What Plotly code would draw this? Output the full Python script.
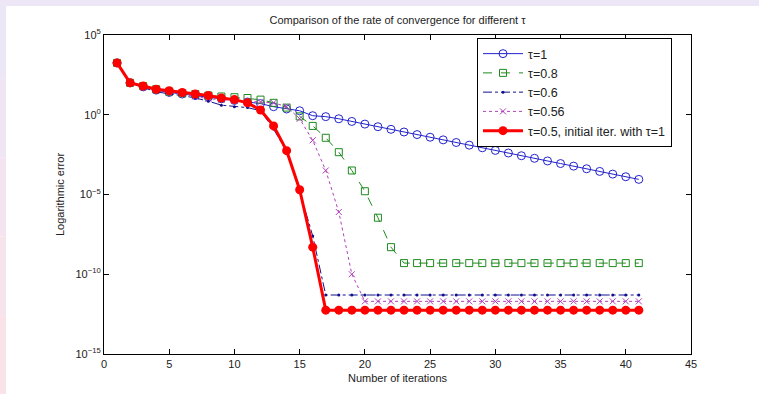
import plotly.graph_objects as go

iterations = list(range(1, 42))

# tau = 1 (blue circles)
err_tau1 = [1.78e3, 1.0e2, 56, 35, 25, 20, 16, 12.6, 10, 7.9, 6.3, 5.0, 3.2, 2.3, 1.78, 0.87, 0.76, 0.56, 0.38,
            0.26, 0.178, 0.122, 0.083, 0.057, 0.039, 0.0266, 0.0182, 0.0124, 8.5e-3, 5.8e-3, 4.0e-3,
            2.7e-3, 1.86e-3, 1.27e-3, 8.7e-4, 6.0e-4, 4.1e-4, 2.8e-4, 1.9e-4, 1.3e-4, 8.9e-5]

# tau = 0.8 (green squares)
err_tau08 = [1.78e3, 1.0e2, 63, 40, 28, 22, 20, 16, 14, 12.6, 11.2, 8.9, 5.6, 2.8, 0.79, 0.2, 0.036,
             4.5e-3, 3.2e-4, 1.6e-5, 3.5e-7, 5.0e-9, 5.0e-10, 5.0e-10, 5.0e-10, 5.0e-10, 5.0e-10, 5.0e-10,
             5.0e-10, 5.0e-10, 5.0e-10, 5.0e-10, 5.0e-10, 5.0e-10, 5.0e-10, 5.0e-10, 5.0e-10, 5.0e-10,
             5.0e-10, 5.0e-10, 5.0e-10]

# tau = 0.6 (navy dash-dot, dots)
err_tau06 = [1.78e3, 1.0e2, 50, 28, 20, 16, 11.2, 7.1, 4.0, 3.2, 2.8, 1.8, 0.126, 5.0e-3, 1.6e-5, 2.5e-8,
             5.0e-12, 5.0e-12, 5.0e-12, 5.0e-12, 5.0e-12, 5.0e-12, 5.0e-12, 5.0e-12, 5.0e-12, 5.0e-12,
             5.0e-12, 5.0e-12, 5.0e-12, 5.0e-12, 5.0e-12, 5.0e-12, 5.0e-12, 5.0e-12, 5.0e-12, 5.0e-12,
             5.0e-12, 5.0e-12, 5.0e-12, 5.0e-12, 5.0e-12]

# tau = 0.56 (magenta crosses)
err_tau056 = [1.78e3, 1.0e2, 56, 35, 25, 20, 14, 10, 8.9, 7.9, 7.1, 6.3, 5.6, 3.2, 0.56, 0.025, 3.2e-4,
              8.0e-7, 1.0e-10, 2.0e-12, 2.0e-12, 2.0e-12, 2.0e-12, 2.0e-12, 2.0e-12, 2.0e-12, 2.0e-12,
              2.0e-12, 2.0e-12, 2.0e-12, 2.0e-12, 2.0e-12, 2.0e-12, 2.0e-12, 2.0e-12, 2.0e-12, 2.0e-12,
              2.0e-12, 2.0e-12, 2.0e-12, 2.0e-12]

# tau = 0.5, initial iteration with tau = 1 (red)
err_tau05 = [1.78e3, 1.0e2, 63, 40, 32, 25, 20, 16, 11.2, 8.9, 5.6, 2.0, 0.2, 5.6e-3, 2.0e-5, 5.0e-9,
             5.6e-13, 5.6e-13, 5.6e-13, 5.6e-13, 5.6e-13, 5.6e-13, 5.6e-13, 5.6e-13, 5.6e-13, 5.6e-13,
             5.6e-13, 5.6e-13, 5.6e-13, 5.6e-13, 5.6e-13, 5.6e-13, 5.6e-13, 5.6e-13, 5.6e-13, 5.6e-13,
             5.6e-13, 5.6e-13, 5.6e-13, 5.6e-13, 5.6e-13]

series_names = ["τ=1", "τ=0.8", "τ=0.6", "τ=0.56", "τ=0.5, initial iter. with τ=1"]

x_ticks = [0, 5, 10, 15, 20, 25, 30, 35, 40, 45]
y_ticks = [1e-15, 1e-10, 1e-5, 1e0, 1e5]
y_ticktext = ["10<sup>−15</sup>", "10<sup>−10</sup>", "10<sup>−5</sup>", "10<sup>0</sup>", "10<sup>5</sup>"]

FONT = "Liberation Sans, Arial, sans-serif"

fig = go.Figure()
fig.add_trace(go.Scatter(x=iterations, y=err_tau1, name=series_names[0], mode="lines+markers",
                         line=dict(color="#2222cc", width=1),
                         marker=dict(symbol="circle-open", size=8, color="#2222cc", line=dict(width=1))))
fig.add_trace(go.Scatter(x=iterations, y=err_tau08, name=series_names[1], mode="lines+markers",
                         line=dict(color="#1e8a1e", width=1, dash="dash"),
                         marker=dict(symbol="square-open", size=7, color="#1e8a1e", line=dict(width=1))))
fig.add_trace(go.Scatter(x=iterations, y=err_tau06, name=series_names[2], mode="lines+markers",
                         line=dict(color="#10108c", width=1, dash="dashdot"),
                         marker=dict(symbol="circle", size=3, color="#10108c")))
fig.add_trace(go.Scatter(x=iterations, y=err_tau056, name=series_names[3], mode="lines+markers",
                         line=dict(color="#b040b8", width=1, dash="dot"),
                         marker=dict(symbol="x-thin-open", size=6, color="#b040b8", line=dict(width=1, color="#b040b8"))))
fig.add_trace(go.Scatter(x=iterations, y=err_tau05, name=series_names[4], mode="lines+markers",
                         line=dict(color="#ff0000", width=3),
                         marker=dict(symbol="circle", size=9, color="#ff0000")))

# decorative page edges (lavender/pink border strips)
strip_colors = ["#ece6f6", "#efe5f3", "#f3e4ef", "#f6e3ec", "#f9e3e8"]
n = len(strip_colors)
for i, c in enumerate(strip_colors):
    fig.add_shape(type="rect", xref="paper", yref="paper",
                  x0=-104 / 587, x1=-98 / 587,
                  y0=1 + 35 / 319 - (i + 1) * (394 / 319) / n, y1=1 + 35 / 319 - i * (394 / 319) / n,
                  fillcolor=c, line=dict(width=0), layer="below")
fig.add_shape(type="rect", xref="paper", yref="paper",
              x0=-104 / 587, x1=1 + 68 / 587, y0=1 + 29 / 319, y1=1 + 35 / 319,
              fillcolor="#ece6f6", line=dict(width=0), layer="below")

axis_common = dict(showgrid=False, zeroline=False, showline=True, linecolor="black", linewidth=1,
                   mirror="ticks", ticks="inside", ticklen=5, tickcolor="black",
                   tickfont=dict(family=FONT, size=11, color="#222222"))

fig.update_layout(
    width=759, height=394,
    margin=dict(l=104, r=68, t=35, b=40),
    paper_bgcolor="white", plot_bgcolor="white",
    title=dict(text="Comparison of the rate of convergence for different τ", x=(104 + 587 / 2) / 759,
               xanchor="center", y=1 - 20 / 394, yanchor="middle",
               font=dict(family=FONT, size=11, color="#222222")),
    xaxis=dict(range=[0, 45], tickvals=x_ticks, ticktext=[str(v) for v in x_ticks],
               title=dict(text="Number of iterations", font=dict(family=FONT, size=11, color="#222222"), standoff=5),
               **axis_common),
    yaxis=dict(type="log", range=[-15, 5], tickvals=y_ticks, ticktext=y_ticktext,
               title=dict(text="Logarithmic error", font=dict(family=FONT, size=11, color="#222222"), standoff=8),
               **axis_common),
    legend=dict(x=(477 - 104) / 587, xanchor="left", y=1 - 3 / 319, yanchor="top",
                bgcolor="white", bordercolor="black", borderwidth=1,
                font=dict(family=FONT, size=12.5, color="#222222"), tracegroupgap=0, itemwidth=40),
    showlegend=True,
)

fig.write_html("out.html", config={"displayModeBar": False},
               post_script="document.body.style.margin='0';document.body.style.padding='0';")
